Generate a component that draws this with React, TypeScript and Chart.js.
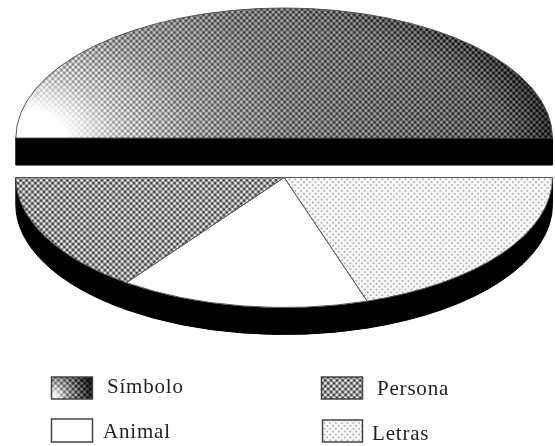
import React, { useEffect, useRef } from "react";
import { Chart, registerables } from "chart.js";

Chart.register(...registerables);

// Share of each category, clockwise from the left end of the pie.
const categories = ["Símbolo", "Letras", "Animal", "Persona"];
const shares = [50, 20, 15, 15];

const WIDTH = 555;
const HEIGHT = 446;
const PIE_RADIUS = 268.35;
const TILT = 130 / 268.35;
const DEPTH = 27;
const EXPLODE = 19.75;

// Swatch and caption placement for the two-column key.
const keyLayout: Record<string, { box: number[]; textX: number; baseline: number }> = {
  Símbolo: { box: [51.5, 377, 41, 22], textX: 107, baseline: 393 },
  Animal: { box: [51.5, 419, 41, 23], textX: 103, baseline: 438 },
  Persona: { box: [321.5, 377, 41, 22], textX: 377, baseline: 395 },
  Letras: { box: [322.5, 420, 40, 22], textX: 372, baseline: 440 },
};

const CELL = 5.8;
const TAU = Math.PI * 2;
const lattice = (x: number, y: number) => Math.cos((TAU * x) / CELL) * Math.cos((TAU * y) / CELL);

const ramp = (stops: number[][], t: number) => {
  if (t <= stops[0][0]) return stops[0][1];
  for (let i = 1; i < stops.length; i++) {
    if (t <= stops[i][0]) {
      const [a, va] = stops[i - 1];
      const [b, vb] = stops[i];
      return va + ((vb - va) * (t - a)) / (b - a);
    }
  }
  return stops[stops.length - 1][1];
};

const SYMBOL_TONES = [[45, 255], [97, 198], [174, 150], [280, 118], [500, 88], [560, 78]];
const SWATCH_TONES = [[0.12, 245], [0.35, 160], [0.7, 85], [1.05, 15]];

// Halftone inks, returned as grey levels for one pixel.
function symbolInk(x: number, y: number) {
  let mean: number;
  if (y > 360) {
    const u = (x - 51.5) / 41;
    const v = (399 - y) / 22;
    mean = ramp(SWATCH_TONES, Math.hypot(u, v * 0.45));
  } else {
    mean = ramp(SYMBOL_TONES, Math.hypot(x - 20, (138 - y) * 1.5));
    const rim = Math.hypot((x - 284) / 268, (138 - y) / 130);
    const side = Math.max(0, (x - 284) / 268);
    mean -= 42 * side * Math.min(1, Math.max(0, (rim - 0.82) / 0.18));
  }
  const amp = Math.min(255 - mean, mean, 70);
  return mean + amp * lattice(x, y);
}
const personaInk = (x: number, y: number) => 152 + 100 * lattice(x, y);
const letrasInk = (x: number, y: number) =>
  248 - 78 * Math.pow(Math.max(0, lattice(x + 1, y + 1)), 1.4);

function halftone(ink: (x: number, y: number) => number, ctx: CanvasRenderingContext2D) {
  const sheet = document.createElement("canvas");
  sheet.width = WIDTH;
  sheet.height = HEIGHT;
  const sctx = sheet.getContext("2d")!;
  const img = sctx.createImageData(WIDTH, HEIGHT);
  for (let y = 0; y < HEIGHT; y++) {
    for (let x = 0; x < WIDTH; x++) {
      const g = Math.max(0, Math.min(255, ink(x, y)));
      const p = (y * WIDTH + x) * 4;
      img.data[p] = img.data[p + 1] = img.data[p + 2] = g;
      img.data[p + 3] = 255;
    }
  }
  sctx.putImageData(img, 0, 0);
  return ctx.createPattern(sheet, "no-repeat")!;
}

// Draws the pie slices as a tilted, extruded disc split into two raised halves.
const tiltedPie = {
  id: "tiltedPie",
  beforeDatasetDraw(chart: any, args: any) {
    const ctx: CanvasRenderingContext2D = chart.ctx;
    for (const arc of args.meta.data) {
      const { x, y, startAngle, endAngle, outerRadius } = arc;
      const rx = outerRadius;
      const ry = outerRadius * TILT;
      const mid = (startAngle + endAngle) / 2;
      const cy = y + (Math.sin(mid) < 0 ? -EXPLODE : EXPLODE);
      const sx = x + rx * Math.cos(startAngle);
      const sy = cy + ry * Math.sin(startAngle);
      const ex = x + rx * Math.cos(endAngle);
      const ey = cy + ry * Math.sin(endAngle);

      ctx.save();
      ctx.fillStyle = "#000";
      ctx.strokeStyle = "#000";
      ctx.lineWidth = 1;
      ctx.beginPath();
      if (Math.sin(mid) < 0) {
        // the cut face of the upper half
        ctx.moveTo(sx, sy);
        ctx.lineTo(ex, ey);
        ctx.lineTo(ex, ey + DEPTH);
        ctx.lineTo(sx, sy + DEPTH);
      } else {
        // the curved wall under the lower half
        ctx.ellipse(x, cy + DEPTH, rx, ry, 0, startAngle, endAngle);
        ctx.ellipse(x, cy, rx, ry, 0, endAngle, startAngle, true);
      }
      ctx.closePath();
      ctx.fill();
      ctx.stroke();
      ctx.restore();
    }
    for (const arc of args.meta.data) {
      const { x, y, startAngle, endAngle, outerRadius } = arc;
      const rx = outerRadius;
      const ry = outerRadius * TILT;
      const mid = (startAngle + endAngle) / 2;
      const cy = y + (Math.sin(mid) < 0 ? -EXPLODE : EXPLODE);

      ctx.save();
      ctx.beginPath();
      ctx.moveTo(x, cy);
      ctx.ellipse(x, cy, rx, ry, 0, startAngle, endAngle);
      ctx.closePath();
      ctx.fillStyle = arc.options.backgroundColor;
      ctx.fill();
      ctx.lineWidth = arc.options.borderWidth;
      ctx.strokeStyle = arc.options.borderColor;
      ctx.stroke();
      ctx.restore();
    }
    return false;
  },
  afterDraw(chart: any) {
    const ctx: CanvasRenderingContext2D = chart.ctx;
    const meta = chart.getDatasetMeta(0);
    ctx.save();
    (chart.data.labels as string[]).forEach((label, i) => {
      const { box, textX, baseline } = keyLayout[label];
      ctx.fillStyle = meta.data[i].options.backgroundColor;
      ctx.fillRect(box[0], box[1], box[2], box[3]);
      ctx.lineWidth = 1.5;
      ctx.strokeStyle = "#444";
      ctx.strokeRect(box[0], box[1], box[2], box[3]);
      ctx.fillStyle = "#1f1f1f";
      ctx.font = '21px "Liberation Serif"';
      (ctx as any).letterSpacing = "0.8px";
      ctx.textBaseline = "alphabetic";
      ctx.fillText(label, textX, baseline);
    });
    ctx.restore();
  },
};

export default function App() {
  const canvasRef = useRef<HTMLCanvasElement>(null);

  useEffect(() => {
    const canvas = canvasRef.current!;
    const ctx = canvas.getContext("2d")!;
    const inks: Record<string, CanvasPattern | string> = {
      Símbolo: halftone(symbolInk, ctx),
      Letras: halftone(letrasInk, ctx),
      Animal: "#ffffff",
      Persona: halftone(personaInk, ctx),
    };
    const chart = new Chart(canvas, {
      type: "pie",
      data: {
        labels: categories,
        datasets: [
          {
            data: shares,
            backgroundColor: categories.map((c) => inks[c]),
            borderColor: "#555",
            borderWidth: 1,
          },
        ],
      },
      options: {
        responsive: false,
        animation: false,
        events: [],
        rotation: -90,
        radius: PIE_RADIUS,
        layout: { padding: { left: 13.3, right: 0, top: 0, bottom: 130.5 } },
        plugins: { legend: { display: false }, tooltip: { enabled: false } },
      },
      plugins: [tiltedPie],
    } as any);
    return () => chart.destroy();
  }, []);

  return (
    <canvas
      ref={canvasRef}
      width={WIDTH}
      height={HEIGHT}
      style={{ position: "absolute", left: 0, top: 0, display: "block" }}
    />
  );
}
